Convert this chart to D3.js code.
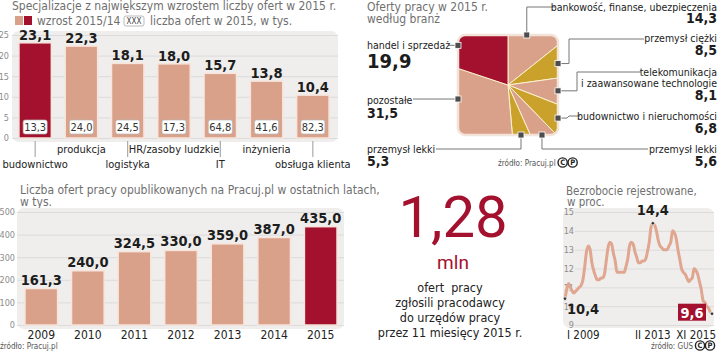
<!DOCTYPE html>
<html>
<head>
<meta charset="utf-8">
<script src="https://cdn.jsdelivr.net/npm/d3@7"></script>
<style>
  body { margin: 0; background: #fff; }
  svg text { font-family: "Liberation Sans Narrow", "DejaVu Sans Condensed", Roboto, sans-serif; }
  .title { font-size: 12px; fill: #6f6f6f; }
  .label { font-size: 11px; fill: #222; }
  .num { font-weight: bold; font-size: 14.5px; fill: #1d1d1d; }
  .tick { font-size: 9px; fill: #8c8c8c; }
  .src { font-size: 8px; fill: #555; }
</style>
</head>
<body>
<svg id="chart" width="720" height="352"></svg>
<script>
// --- dane ---
const specCategories = ["budownictwo", "produkcja", "logistyka", "HR/zasoby ludzkie", "IT", "inżynieria", "obsługa klienta"];
const specGrowth = [23.1, 22.3, 18.1, 18.0, 15.7, 13.8, 10.4];   // wzrost 2015/14
const specOffers = [13.3, 24.0, 24.5, 17.3, 64.8, 41.6, 82.3];   // liczba ofert w 2015, w tys.
const specTicks = [0, 5, 10, 15, 20, 25];

const industryNames = ["bankowość, finanse, ubezpieczenia", "przemysł ciężki", "telekomunikacja\ni zaawansowane technologie",
  "budownictwo i nieruchomości", "przemysł lekki", "przemysł lekki", "pozostałe", "handel i sprzedaż"];
const industryShares = [14.3, 8.5, 8.1, 6.8, 5.6, 5.3, 31.5, 19.9];

const years = ["2009", "2010", "2011", "2012", "2013", "2014", "2015"];
const yearOffers = [161.3, 240.0, 324.5, 330.0, 359.0, 387.0, 435.0];
const offerTicks = [0, 100, 200, 300, 400, 500];

const officeOffers = 1.28; // mln
const officeLines = ["ofert  pracy", "zgłosili pracodawcy", "do urzędów pracy", "przez 11 miesięcy 2015 r."];

// bezrobocie rejestrowane, I 2009 - XI 2015
const unemployment = [
  10.4, 10.9, 11.2, 11.0, 10.8, 10.7, 10.8, 10.9, 11.0, 11.1, 11.4, 12.1,
  12.9, 13.2, 13.0, 12.3, 11.9, 11.6, 11.4, 11.4, 11.5, 11.5, 11.7, 12.4,
  13.1, 13.4, 13.3, 12.8, 12.4, 11.8, 11.8, 11.8, 11.8, 11.8, 12.1, 12.5,
  13.2, 13.4, 13.3, 12.9, 12.6, 12.3, 12.3, 12.4, 12.4, 12.5, 12.9, 13.4,
  14.2, 14.4, 14.3, 14.0, 13.5, 13.2, 13.1, 13.0, 13.0, 13.0, 13.2, 13.4,
  14.0, 13.9, 13.6, 13.0, 12.5, 12.0, 11.8, 11.7, 11.5, 11.3, 11.4, 11.5,
  12.0, 11.9, 11.7, 11.3, 10.9, 10.3, 10.2, 10.0, 9.9, 9.7, 9.6
];
const unempTicks = [9, 10, 11, 12, 13, 14, 15];
const unempLabels = [{ i: 0, text: "I 2009" }, { i: 49, text: "II 2013" }, { i: 82, text: "XI 2015" }];

// --- kolory ---
const SALMON = "#d9a08a", DARK = "#a3112e", GOLD = "#c9a12b";
const PANEL = "#efeeed", GRID = "#dcdbda", BAR_EDGE = "#f7e4db";

const pl = d3.formatLocale({ decimal: ",", thousands: " ", grouping: [3], currency: ["", ""] });
const f1 = pl.format(".1f"), f2 = pl.format(".2f");

const svg = d3.select("#chart");

function cpIcon(g, x, y) {
  ["C", "P"].forEach((ch, i) => {
    g.append("circle").attr("cx", x + 5 + i * 10).attr("cy", y - 3.5).attr("r", 4.6)
      .attr("fill", "none").attr("stroke", "#222").attr("stroke-width", 1.4);
    g.append("text").attr("x", x + 5 + i * 10).attr("y", y - 0.7).attr("text-anchor", "middle")
      .style("font-size", "7.5px").style("font-weight", "bold").attr("fill", "#222").text(ch);
  });
}

function source(g, x, y, text, anchor, icon) {
  const t = g.append("text").attr("class", "src").attr("x", x).attr("y", y)
    .attr("text-anchor", anchor || "start").text(text);
  if (icon) {
    const w = t.node().getComputedTextLength();
    cpIcon(g, (anchor === "end" ? x : x + w) + 2, y);
  }
}

function styleGrid(g) {
  g.select(".domain").remove();
  g.selectAll(".tick line").attr("stroke", GRID);
  g.selectAll(".tick text").attr("class", "tick");
}

// ===== 1. Specjalizacje =====
(function () {
  const g = svg.append("g");
  g.append("text").attr("class", "title").attr("x", 12).attr("y", 10)
    .text("Specjalizacje z największym wzrostem liczby ofert w 2015 r.");

  // legenda
  g.append("rect").attr("x", 15).attr("y", 16).attr("width", 8).attr("height", 9).attr("fill", SALMON);
  g.append("rect").attr("x", 24).attr("y", 16).attr("width", 8).attr("height", 9).attr("fill", DARK);
  g.append("text").attr("class", "title").attr("x", 37).attr("y", 25).text("wzrost 2015/14");
  g.append("rect").attr("x", 124).attr("y", 16).attr("width", 20).attr("height", 10).attr("rx", 2)
    .attr("fill", "#fff").attr("stroke", "#aaa").attr("stroke-width", 0.8);
  g.append("text").attr("x", 134).attr("y", 24).attr("text-anchor", "middle")
    .style("font-size", "8px").attr("fill", "#444").text("XXX");
  g.append("text").attr("class", "title").attr("x", 150).attr("y", 25).text("liczba ofert w 2015, w tys.");

  g.append("rect").attr("x", 12).attr("y", 31).attr("width", 326).attr("height", 111).attr("rx", 7).attr("fill", PANEL);

  const x = d3.scaleBand().domain(specCategories).range([12, 336]).paddingInner(0.3).paddingOuter(0.15);
  const y = d3.scaleLinear().domain([0, 25]).range([138, 35]);

  g.append("g").attr("transform", "translate(12,0)")
    .call(d3.axisLeft(y).tickValues(specTicks).tickFormat(d3.format("d")).tickSize(-326).tickPadding(3))
    .call(styleGrid);

  const bars = g.selectAll(".bar").data(specCategories).enter().append("g");
  bars.append("rect")
    .attr("x", d => x(d)).attr("y", (d, i) => y(specGrowth[i]))
    .attr("width", x.bandwidth()).attr("height", (d, i) => y(0) - y(specGrowth[i]))
    .attr("fill", (d, i) => i === 0 ? DARK : SALMON)
    .attr("stroke", BAR_EDGE).attr("stroke-width", 1.5);
  bars.append("text").attr("class", "num").attr("text-anchor", "middle")
    .attr("x", d => x(d) + x.bandwidth() / 2).attr("y", (d, i) => y(specGrowth[i]) - 3)
    .text((d, i) => f1(specGrowth[i]));
  bars.append("rect")
    .attr("x", d => x(d) + x.bandwidth() / 2 - 12).attr("y", y(0) - 18)
    .attr("width", 24).attr("height", 14).attr("rx", 2)
    .attr("fill", "#fff").attr("stroke", "#b8b8b8").attr("stroke-width", 0.7);
  bars.append("text").attr("text-anchor", "middle")
    .attr("x", d => x(d) + x.bandwidth() / 2).attr("y", y(0) - 7.5)
    .style("font-size", "11px").attr("fill", "#333")
    .text((d, i) => f1(specOffers[i]));

  // podpisy kategorii na przemian w dwóch rzędach
  bars.filter((d, i) => i % 2 === 0).append("line")
    .attr("x1", d => x(d) + x.bandwidth() / 2).attr("x2", d => x(d) + x.bandwidth() / 2)
    .attr("y1", 141).attr("y2", 157).attr("stroke", "#9a9a9a");
  bars.append("text").attr("class", "label").attr("text-anchor", "middle")
    .attr("x", d => x(d) + x.bandwidth() / 2)
    .attr("y", (d, i) => i % 2 === 0 ? 168 : 153)
    .text(d => d);
})();

// ===== 2. Oferty pracy według branż =====
(function () {
  const g = svg.append("g");
  g.append("text").attr("class", "title").attr("x", 367).attr("y", 11).text("Oferty pracy w 2015 r.");
  g.append("text").attr("class", "title").attr("x", 367).attr("y", 23).text("według branż");

  const box = { x: 458, y: 35, w: 100, h: 100 };
  const cx = box.x + box.w / 2, cy = box.y + box.h / 2;

  g.append("clipPath").attr("id", "sq").append("rect")
    .attr("x", box.x).attr("y", box.y).attr("width", box.w).attr("height", box.h).attr("rx", 7);

  const arcs = d3.pie().sort(null).value(d => d)(industryShares);
  const arc = d3.arc().innerRadius(0).outerRadius(80);
  const colorOf = i => i === industryShares.length - 1 ? DARK : (i % 2 ? GOLD : SALMON);

  g.append("g").attr("clip-path", "url(#sq)")
    .append("g").attr("transform", `translate(${cx},${cy})`)
    .selectAll("path").data(arcs).enter().append("path")
    .attr("d", arc).attr("fill", (d, i) => colorOf(i))
    .attr("stroke", "#fbf1cf").attr("stroke-width", 1);
  g.append("rect").attr("x", box.x).attr("y", box.y).attr("width", box.w).attr("height", box.h).attr("rx", 7)
    .attr("fill", "none").attr("stroke", "#f3e4da").attr("stroke-width", 2.5);

  // znacznik na brzegu kwadratu wzdłuż kąta wycinka
  function edgePoint(a) {
    const dx = Math.sin(a), dy = -Math.cos(a);
    const t = Math.min(box.w / 2 / Math.abs(dx || 1e-9), box.h / 2 / Math.abs(dy || 1e-9));
    return [cx + dx * t, cy + dy * t];
  }
  const mid = d => (d.startAngle + d.endAngle) / 2;

  // układ podpisów: kąt znacznika, łamana linii, pozycje tekstu
  const layout = [
    { ang: d => mid(d) - 0.09, path: m => [m, [m[0], 7], [555, 7]], anchor: "end", tx: 717, ty: [11], vy: 23 },
    { ang: mid, path: m => [m, [569, m[1]], [569, 39], [644, 39]], anchor: "end", tx: 717, ty: [42], vy: 55 },
    { ang: mid, path: m => [m, [577, m[1]], [577, 72], [641, 72]], anchor: "end", tx: 717, ty: [76, 87], vy: 100 },
    { ang: mid, path: m => [m, [567, m[1]], [569, 116], [580, 116]], anchor: "end", tx: 717, ty: [120], vy: 133 },
    { ang: mid, path: m => [m, [m[0], 149], [648, 149]], anchor: "end", tx: 717, ty: [153], vy: 166 },
    { ang: mid, path: m => [m, [m[0], 149], [436, 149]], anchor: "start", tx: 367, ty: [153], vy: 166 },
    { ang: d => d.startAngle + (d.endAngle - d.startAngle) * 0.7, path: m => [m, [413, m[1]]], anchor: "start", tx: 367, ty: [104], vy: 118 },
    { ang: d => d.startAngle + (d.endAngle - d.startAngle) * 0.28, path: m => [m, [448, m[1]]], anchor: "start", tx: 367, ty: [49], vy: 68, big: true }
  ];

  arcs.forEach((d, i) => {
    const L = layout[i];
    const m = edgePoint(L.ang(d));
    g.append("path").attr("d", d3.line()(L.path(m))).attr("fill", "none").attr("stroke", "#777").attr("stroke-width", 1);
    g.append("rect").attr("x", m[0] - 3).attr("y", m[1] - 3).attr("width", 6).attr("height", 6)
      .attr("fill", "#4d4d4d").attr("stroke", "#fff").attr("stroke-width", 0.8);
    industryNames[i].split("\n").forEach((line, k) => {
      g.append("text").attr("class", "label").attr("text-anchor", L.anchor)
        .attr("x", L.tx).attr("y", L.ty[k]).style("font-size", "10.5px").text(line);
    });
    g.append("text").attr("class", "num").attr("text-anchor", L.anchor)
      .attr("x", L.tx).attr("y", L.vy)
      .style("font-size", L.big ? "20px" : "14px")
      .attr("fill", L.big ? DARK : "#1d1d1d")
      .text(f1(industryShares[i]));
  });

  source(g, 498, 166, "źródło: Pracuj.pl", "start", true);
})();

// ===== 3. Pracuj.pl w ostatnich latach =====
(function () {
  const g = svg.append("g");
  g.append("text").attr("class", "title").attr("x", 20).attr("y", 194)
    .text("Liczba ofert pracy opublikowanych na Pracuj.pl w ostatnich latach,");
  g.append("text").attr("class", "title").attr("x", 20).attr("y", 206).text("w tys.");

  g.append("rect").attr("x", 17).attr("y", 208).attr("width", 327).attr("height", 121).attr("rx", 7).attr("fill", PANEL);

  const x = d3.scaleBand().domain(years).range([18, 344]).paddingInner(0.3).paddingOuter(0.15);
  const y = d3.scaleLinear().domain([0, 500]).range([325, 212]);

  g.append("g").attr("transform", "translate(17,0)")
    .call(d3.axisLeft(y).tickValues(offerTicks).tickFormat(d3.format("d")).tickSize(-327).tickPadding(2))
    .call(styleGrid);

  const bars = g.selectAll(".bar").data(years).enter().append("g");
  bars.append("rect")
    .attr("x", d => x(d)).attr("y", (d, i) => y(yearOffers[i]))
    .attr("width", x.bandwidth()).attr("height", (d, i) => y(0) - y(yearOffers[i]))
    .attr("fill", (d, i) => i === years.length - 1 ? DARK : SALMON)
    .attr("stroke", BAR_EDGE).attr("stroke-width", 1.5);
  bars.append("text").attr("class", "num").attr("text-anchor", "middle")
    .attr("x", d => x(d) + x.bandwidth() / 2).attr("y", (d, i) => y(yearOffers[i]) - 4)
    .text((d, i) => f1(yearOffers[i]));
  bars.append("text").attr("class", "label").attr("text-anchor", "middle")
    .attr("x", d => x(d) + x.bandwidth() / 2).attr("y", 339)
    .style("font-size", "12px").text(d => d);

  source(g, 0, 349, "źródło: Pracuj.pl", "start", false);
})();

// ===== 4. Oferty w urzędach pracy =====
(function () {
  const g = svg.append("g");
  const cx = 453;
  g.append("text").attr("x", cx).attr("y", 237).attr("text-anchor", "middle")
    .style("font-family", "Roboto, sans-serif").style("font-size", "58px").attr("fill", DARK)
    .text(f2(officeOffers));
  g.append("text").attr("x", cx).attr("y", 269).attr("text-anchor", "middle")
    .style("font-family", "Roboto, sans-serif").style("font-size", "19px").attr("fill", DARK)
    .text("mln");
  officeLines.forEach((line, i) => {
    g.append("text").attr("class", "label").attr("x", cx - 3).attr("y", 292 + i * 15)
      .attr("text-anchor", "middle").style("font-size", "12.5px").style("white-space", "pre").text(line);
  });
})();

// ===== 5. Bezrobocie rejestrowane =====
(function () {
  const g = svg.append("g");
  g.append("text").attr("class", "title").attr("x", 566).attr("y", 195).style("font-size", "11.5px")
    .text("Bezrobocie rejestrowane,");
  g.append("text").attr("class", "title").attr("x", 567).attr("y", 206).style("font-size", "11.5px")
    .text("w proc.");

  g.append("rect").attr("x", 563).attr("y", 208).attr("width", 151).attr("height", 120).attr("rx", 7).attr("fill", PANEL);

  const x = d3.scaleLinear().domain([0, unemployment.length - 1]).range([565, 712]);
  const y = d3.scaleLinear().domain([9, 15]).range([325, 212]);

  g.append("g").attr("transform", "translate(575,0)")
    .call(d3.axisLeft(y).tickValues(unempTicks).tickFormat(d3.format("d")).tickSize(-139).tickPadding(1))
    .call(styleGrid);

  g.append("path").datum(unemployment)
    .attr("d", d3.line().x((d, i) => x(i)).y(d => y(d)).curve(d3.curveMonotoneX))
    .attr("fill", "none").attr("stroke", "#e0a690").attr("stroke-width", 3)
    .attr("stroke-linejoin", "round");

  const last = unemployment.length - 1;
  const peak = d3.maxIndex(unemployment);
  [0, peak, last].forEach(i => {
    g.append("circle").attr("cx", x(i)).attr("cy", y(unemployment[i])).attr("r", 1.8)
      .attr("fill", "#333").attr("stroke", "#fff").attr("stroke-width", 0.8);
  });

  g.append("text").attr("class", "num").attr("x", x(0) + 2).attr("y", y(unemployment[0]) + 15)
    .text(f1(unemployment[0]));
  g.append("text").attr("class", "num").attr("text-anchor", "middle")
    .attr("x", x(peak)).attr("y", y(unemployment[peak]) - 8)
    .text(f1(unemployment[peak]));
  g.append("rect").attr("x", x(last) - 34).attr("y", y(unemployment[last]) - 10)
    .attr("width", 28).attr("height", 17).attr("fill", DARK);
  g.append("text").attr("class", "num").attr("text-anchor", "middle")
    .style("fill", "#fff")
    .attr("x", x(last) - 20).attr("y", y(unemployment[last]) + 4)
    .text(f1(unemployment[last]));

  unempLabels.forEach((d, k) => {
    const first = k === 0, end = k === unempLabels.length - 1;
    g.append("text").attr("class", "label")
      .attr("text-anchor", first ? "start" : (end ? "end" : "middle"))
      .attr("x", first ? x(d.i) + 2 : (end ? x(d.i) + 4 : x(d.i)))
      .attr("y", 339).style("font-size", "11.5px").text(d.text);
  });

  source(g, 693, 349, "źródło: GUS", "end", true);
})();
</script>
</body>
</html>
